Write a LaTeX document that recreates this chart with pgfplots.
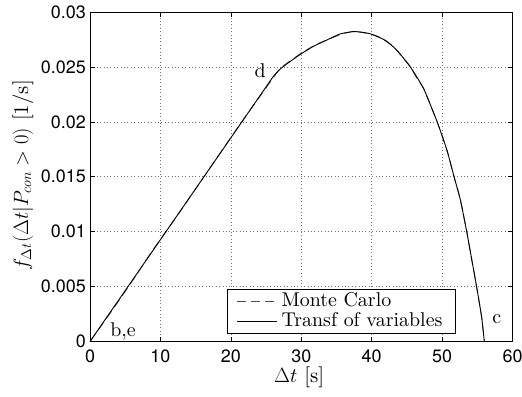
\documentclass[border=0pt]{standalone}
\usepackage{fontspec}
\setmainfont{lmroman10-regular.otf}[BoldFont=lmroman10-bold.otf, ItalicFont=lmroman10-italic.otf]
\usepackage{pgfplots}
\pgfplotsset{compat=1.18}
\newfontfamily\helv{TeX Gyre Heros}
\newcommand\lbl{\fontsize{21}{25}\selectfont}
\newcommand\lgd{\fontsize{20}{24}\selectfont}
\begin{document}
\begin{tikzpicture}
\begin{axis}[
  scale only axis,
  width=422.5bp, height=329.5bp,
  at={(0,0)}, anchor=south west,
  xmin=0, xmax=60, ymin=0, ymax=0.03,
  xtick={0,10,20,30,40,50,60},
  ytick={0,0.005,0.01,0.015,0.02,0.025,0.03},
  yticklabels={0,0.005,0.01,0.015,0.02,0.025,0.03},
  scaled y ticks=false,
  tick align=inside,
  major tick length=5bp,
  minor tick num=0,
  grid=major,
  major grid style={dash pattern=on 0.8bp off 2.6bp, black!55, line width=0.6bp},
  axis line style={line width=0.7bp},
  tick style={black, line width=0.6bp},
  /pgf/number format/assume math mode=true,
  tick label style={font=\helv\fontsize{18}{18}\selectfont},
  yticklabel style={inner sep=0pt, xshift=-4bp},
  xticklabel style={inner sep=0pt, yshift=-8bp, anchor=north},
  every axis x label/.style={at={(axis description cs:0.495,0)}, anchor=base, yshift=-41bp, inner sep=0pt},
  every axis y label/.style={at={(axis description cs:-0.1467,0.505)}, rotate=90, anchor=base, inner sep=0pt},
  label style={font=\lbl},
  xlabel={$\Delta t$ [s]},
  ylabel={$f_{\Delta t}(\Delta t|P_{con}>0)$ [1/s]},
  legend style={at={(axis description cs:0.866,0.0219)}, anchor=south east,
    font=\lgd, draw=black, line width=0.8bp, inner xsep=9bp, inner ysep=2bp,
    nodes={inner ysep=0pt, inner xsep=4bp, text height=15bp, text depth=5bp},
    row sep=0pt},
  legend cell align=left,
  legend image code/.code={\draw[#1] (0bp,0bp) -- (40bp,0bp);},
]
\addplot[black!70, line width=0.9bp, dash pattern=on 9bp off 5bp, smooth, tension=0.3] coordinates {
(0,0) (3,0.0027) (6,0.0055) (9,0.0084) (12,0.0111) (15,0.0139) (18,0.0167)
(21,0.0195) (24,0.0222) (26,0.0240) (27,0.02485) (28,0.02535) (29,0.0258)
(30,0.02625) (32,0.0270) (34,0.02755) (36,0.02805) (37.5,0.02823) (39,0.0281)
(41,0.02775) (43,0.0269) (44,0.02618) (45.5,0.0250) (46.5,0.02388) (47.4,0.0230)
(49.3,0.0200) (50.7,0.0174) (51.7,0.0150) (52.6,0.0129) (53.5,0.0100)
(54.2,0.0075) (54.9,0.0050) (55.6,0.0023) (56.0,0)
};
\addlegendentry{Monte Carlo}
\addplot[black, line width=0.9bp, smooth, tension=0.3] coordinates {
(0,0) (13,0.01205) (24,0.02225) (26,0.0241) (27,0.0248) (28,0.0253) (30,0.0262) (31.8,0.0269)
(33.6,0.02744) (35.5,0.0280) (37.4,0.02822) (38.7,0.02815) (40,0.02798)
(42,0.0274) (43.6,0.0265) (45.5,0.0250) (47.4,0.0230) (49.3,0.0200)
(50.7,0.0174) (51.7,0.0150) (52.6,0.0129) (53.5,0.0100) (54.2,0.0075)
(54.9,0.0050) (55.6,0.0023) (56.0,0)
};
\addlegendentry{Transf of variables}
\node[font=\lgd] at (axis cs:4.69,0.0009) {b,e};
\node[font=\lgd] at (axis cs:57.77,0.00202) {c};
\node[font=\lgd] at (axis cs:24.15,0.02462) {d};
\end{axis}
\pgfresetboundingbox
\path[use as bounding box] (-90bp,-55.5bp) rectangle (432bp,341.5bp);
\end{tikzpicture}
\end{document}
